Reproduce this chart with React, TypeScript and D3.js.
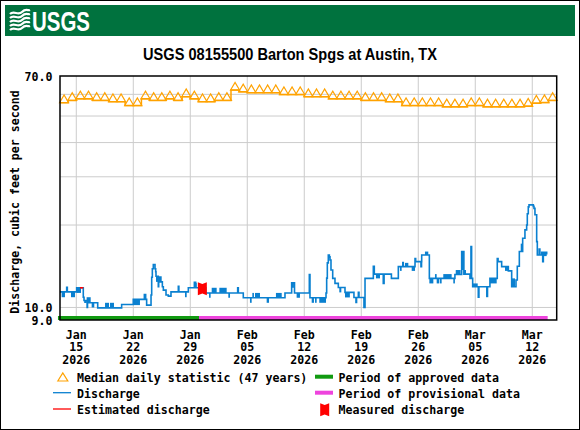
import React from 'react';
import * as d3 from 'd3';

// all times are days after 2026-01-13 00:00 UTC
const START = Date.UTC(2026, 0, 13);
const DAY = 86400000;
const SPAN_DAYS = 61;

// median daily statistic (47 years), one value per day from Jan 13 to Mar 14
const medianDaily = [
  55.9, 57.0, 57.8, 57.8, 57.0, 57.0, 56.4, 56.4, 54.6, 54.6, 57.8, 57.0, 57.0, 57.8, 57.0, 58.8, 57.8, 56.4, 56.4,
  57.0, 57.0, 62.2, 61.3, 60.8, 60.8, 60.8, 60.8, 59.9, 59.9, 59.9, 58.8, 58.8, 58.8, 57.8, 57.8, 57.8, 57.8,
  57.0, 57.0, 57.0, 56.4, 56.4, 54.6, 54.6, 54.6, 54.6, 54.6,
  54.0, 54.0, 54.0, 54.6, 54.6, 54.0, 54.0, 54.0, 54.0, 54.0, 54.3, 55.7, 56.0, 57.0,
];

// discharge, [day, cfs], held until the next point
const discharge = [
  [0, 11.4], [0.82, 11.85], [0.9, 11.4], [2.05, 11.8], [2.86, 10.9], [2.95, 10.6], [3.07, 10.45], [3.12, 10.6],
  [3.33, 10.0], [3.38, 10.6], [3.48, 10.4], [4.63, 9.97], [7.57, 10.25], [9.0, 10.7], [10.36, 11.15], [10.52, 10.7],
  [10.64, 10.2], [11.18, 11.1], [11.26, 12.9], [11.34, 13.85], [11.46, 14.35], [11.67, 13.85], [11.75, 13.5],
  [11.79, 13.0], [12.07, 11.9], [12.12, 12.4], [12.57, 11.9], [12.69, 11.57], [13.02, 11.1], [13.3, 11.0],
  [13.63, 11.4], [14.53, 11.95], [14.6, 11.4], [15.76, 11.8], [16.5, 12.35], [16.66, 11.8], [17.9, 11.3],
  [21.82, 11.8], [21.9, 11.3], [22.51, 10.85], [27.63, 11.3], [28.45, 12.3], [28.8, 11.3], [30.62, 13.2],
  [30.7, 10.85], [32.67, 11.3], [32.75, 12.8], [32.83, 14.55], [32.95, 15.55], [33.08, 15.3], [33.16, 14.9],
  [33.28, 13.7], [33.49, 12.77], [33.77, 12.24], [34.18, 11.83], [35.0, 11.35], [36.1, 10.88], [36.35, 10.43],
  [36.42, 10.88], [36.64, 11.35], [36.72, 10.88], [37.33, 10.0], [37.46, 12.77], [38.48, 14.15], [38.6, 13.24],
  [39.7, 12.24], [39.8, 13.24], [40.7, 12.77], [41.55, 14.1], [42.1, 14.6], [42.16, 14.1], [43.6, 15.1],
  [43.68, 14.7], [44.33, 14.1], [44.4, 14.7], [44.42, 15.55], [45.36, 12.77], [48.5, 13.2], [49.33, 16.0],
  [49.6, 13.24], [50.35, 12.77], [50.47, 16.7], [50.55, 12.77], [50.68, 11.9], [51.37, 10.9], [51.45, 11.9],
  [52.8, 12.77], [53.7, 15.1], [53.8, 14.7], [54.24, 14.1], [55.06, 13.6], [55.47, 11.9], [56.0, 12.6],
  [56.16, 14.15], [56.41, 16.0], [56.82, 17.9], [57.1, 19.2], [57.31, 20.0], [57.39, 22.0], [57.51, 23.3],
  [57.6, 23.7], [58.13, 23.4], [58.21, 23.0], [58.33, 21.8], [58.54, 17.4], [58.62, 15.55], [59.15, 15.9],
  [59.28, 14.7], [59.36, 15.9], [59.77, 15.6],
];

// stretches where the 15-minute values flip between two levels: [from, to, low, high]
const flicker = [
  [0.2, 0.61, 10.9, 11.4], [1.35, 1.84, 10.9, 11.4], [2.05, 2.58, 11.3, 11.8], [3.27, 3.77, 10.4, 10.9],
  [3.89, 4.21, 10.0, 10.4], [5.53, 6.02, 9.97, 10.4], [6.14, 6.63, 9.97, 10.4], [9.0, 9.82, 10.2, 10.7],
  [11.79, 12.49, 12.4, 13.0], [15.35, 15.56, 10.9, 11.4], [16.46, 16.79, 11.8, 12.3], [18.3, 18.5, 10.85, 11.3],
  [18.63, 19.24, 11.3, 11.8], [19.57, 20.47, 11.3, 11.8], [20.67, 20.88, 10.85, 11.3], [23.33, 23.54, 10.4, 10.85],
  [23.62, 23.82, 10.85, 11.3], [23.95, 24.56, 10.85, 11.3], [25.38, 25.67, 10.4, 10.85], [26.52, 27.23, 10.85, 11.3],
  [28.45, 28.73, 11.8, 12.3], [29.06, 29.47, 10.85, 11.3], [30.91, 31.19, 10.4, 10.85], [31.32, 31.52, 10.4, 10.85],
  [31.84, 32.67, 10.4, 10.85], [34.3, 34.55, 11.35, 11.83], [35.0, 35.6, 10.88, 11.35], [38.8, 39.3, 12.77, 13.24],
  [41.75, 41.96, 13.6, 14.1], [42.37, 42.78, 14.1, 14.55], [43.19, 43.6, 13.6, 14.1], [44.82, 45.23, 15.55, 16.0],
  [45.36, 45.85, 12.24, 12.77], [46.05, 46.26, 12.77, 13.24], [46.26, 46.58, 12.24, 12.77], [46.67, 46.87, 12.24, 12.77],
  [47.07, 48.1, 12.77, 13.24], [48.3, 48.5, 12.24, 12.77], [48.6, 49.2, 13.2, 13.7], [49.33, 49.6, 13.7, 16.0],
  [49.6, 49.86, 13.24, 13.7], [50.68, 51.3, 11.9, 12.24], [52.32, 52.6, 10.9, 11.9], [52.8, 53.63, 12.24, 12.77],
  [54.65, 55.06, 13.6, 14.1], [55.47, 55.88, 11.9, 12.77], [56.58, 56.82, 16.0, 17.1], [58.74, 59.03, 15.55, 16.45],
  [59.44, 59.77, 15.4, 15.9],
];

const estimated = [[2.45, 11.8], [2.86, 11.8]];
const measured = [[17.48, 11.7]];

const approvedPeriod = [-0.25, 17.07];
const provisionalPeriod = [17.07, 59.89];

const gridValues = [10, 20, 30, 40, 50, 60];
const yTickLabels = [70, 10, 9];

const title = 'USGS 08155500 Barton Spgs at Austin, TX';
const yTitle = 'Discharge, cubic feet per second';

const BLUE = '#0a80d0';
const ORANGE = '#ffa200';
const MONO = "'DejaVu Sans Mono', monospace";

const toDate = (t: number) => new Date(START + t * DAY);

const x = d3.scaleUtc().domain([toDate(0), toDate(SPAN_DAYS)]).range([60, 556.7]);
const y = d3.scaleLog().domain([9, 70]).range([320, 76]);

const stepLine = d3.line<number[]>()
  .x(d => x(toDate(d[0])))
  .y(d => y(d[1]))
  .curve(d3.curveStepAfter);

const plainLine = d3.line<number[]>()
  .x(d => x(toDate(d[0])))
  .y(d => y(d[1]));

const medianPts = medianDaily.map((v, i) => [i, v]).concat([[SPAN_DAYS, medianDaily[medianDaily.length - 1]]]);
const weekTicks = d3.utcThursday.range(toDate(1), toDate(SPAN_DAYS));

const tri = (cx: number, by: number, w: number, h: number) =>
  `M${cx - w / 2},${by}L${cx},${by - h}L${cx + w / 2},${by}Z`;
const measShape = (cx: number, cy: number) =>
  `M${cx - 4.5},${cy - 6.5}L${cx},${cy - 4.8}L${cx + 4.5},${cy - 6.5}L${cx + 4.5},${cy + 6.5}L${cx},${cy + 4.8}L${cx - 4.5},${cy + 6.5}Z`;

const fmtMon = d3.utcFormat('%b');
const fmtDay = d3.utcFormat('%d');
const fmtYear = d3.utcFormat('%Y');

export default function App() {
  const lbl = { fontFamily: MONO, fontWeight: 'bold' as const, fontSize: 11.6, fill: '#000' };
  return (
    <svg width={580} height={430} style={{ position: 'absolute', left: 0, top: 0, background: '#fff' }}>
      <rect x={0.5} y={0.5} width={579} height={429} fill="#fff" stroke="#000" strokeWidth={1} />

      {/* header band */}
      <rect x={5} y={5} width={570} height={31} fill="#00723e" />
      {[13, 17, 21, 25, 29].map((yy, i) => (
        <path key={i} d={`M10,${yy + 1}C14,${yy - 3} 18,${yy + 3} 22,${yy - 1}S28,${yy - 2} 30,${yy - 3}`}
          fill="none" stroke="#fff" strokeWidth={2.3} />
      ))}
      <text x={32} y={30.5} fill="#fff" fontFamily="'Liberation Sans Narrow', 'Liberation Sans', sans-serif"
        fontWeight="bold" fontSize={28} textLength={58} lengthAdjust="spacingAndGlyphs">USGS</text>

      <text x={290} y={59.5} textAnchor="middle" fontFamily="'Liberation Sans', Arial, sans-serif" fontWeight="bold"
        fontSize={17} textLength={294} lengthAdjust="spacingAndGlyphs">{title}</text>

      {/* grid */}
      {gridValues.map(v => (
        <line key={v} x1={60} x2={556.7} y1={y(v)} y2={y(v)} stroke="#cccccc" strokeWidth={1} />
      ))}
      {weekTicks.map(d => (
        <line key={+d} x1={x(d)} x2={x(d)} y1={76} y2={320} stroke="#cccccc" strokeWidth={1} />
      ))}

      {/* approval periods */}
      <rect x={x(toDate(approvedPeriod[0]))} y={316} width={x(toDate(approvedPeriod[1])) - x(toDate(approvedPeriod[0]))}
        height={4} fill="#119a11" />
      <rect x={x(toDate(provisionalPeriod[0]))} y={316}
        width={x(toDate(provisionalPeriod[1])) - x(toDate(provisionalPeriod[0]))} height={4} fill="#ee44dd" />

      {/* median */}
      <path d={stepLine(medianPts) || ''} fill="none" stroke={ORANGE} strokeWidth={1.5} />
      {medianDaily.map((v, i) => (
        <path key={i} d={tri(x(toDate(i + 0.5)), y(v), 9, 7.7)} fill="none" stroke={ORANGE} strokeWidth={1.2} />
      ))}

      {/* discharge */}
      {flicker.map((f, i) => (
        <rect key={i} x={x(toDate(f[0]))} width={Math.max(1.5, x(toDate(f[1])) - x(toDate(f[0])))}
          y={y(f[3])} height={y(f[2]) - y(f[3])} fill={BLUE} />
      ))}
      <path d={stepLine(discharge) || ''} fill="none" stroke={BLUE} strokeWidth={1.6} />
      <path d={plainLine(estimated) || ''} fill="none" stroke="#ff0000" strokeWidth={1.6} />
      {measured.map((m, i) => (
        <path key={i} d={measShape(x(toDate(m[0])), y(m[1]))} fill="#ff0000" />
      ))}

      <rect x={60} y={76} width={496.7} height={244} fill="none" stroke="#000" strokeWidth={1.5} />

      {/* y labels */}
      {yTickLabels.map(v => (
        <text key={v} x={52.5} y={y(v) + 4.5} textAnchor="end" {...lbl}>{v.toFixed(1)}</text>
      ))}
      <text transform="translate(18.5,202) rotate(-90)" textAnchor="middle" {...lbl}>{yTitle}</text>

      {/* x labels */}
      {weekTicks.map(d => (
        <text key={+d} textAnchor="middle" {...lbl}>
          <tspan x={x(d)} y={338.5}>{fmtMon(d)}</tspan>
          <tspan x={x(d)} y={351}>{fmtDay(d)}</tspan>
          <tspan x={x(d)} y={363.5}>{fmtYear(d)}</tspan>
        </text>
      ))}

      {/* legend */}
      <path d={tri(62.8, 381, 10, 8)} fill="none" stroke={ORANGE} strokeWidth={1.2} />
      <text x={77} y={381.5} {...lbl}>Median daily statistic (47 years)</text>
      <line x1={53} x2={71} y1={392.7} y2={392.7} stroke={BLUE} strokeWidth={1.3} />
      <text x={77} y={397.5} {...lbl}>Discharge</text>
      <line x1={53} x2={71} y1={409} y2={409} stroke="#ff0000" strokeWidth={1.3} />
      <text x={77} y={413.5} {...lbl}>Estimated discharge</text>

      <line x1={315} x2={333} y1={376.7} y2={376.7} stroke="#119a11" strokeWidth={4} />
      <text x={338.5} y={381.5} {...lbl}>Period of approved data</text>
      <line x1={315} x2={333} y1={392.7} y2={392.7} stroke="#ee44dd" strokeWidth={4} />
      <text x={338.5} y={397.5} {...lbl}>Period of provisional data</text>
      <path d={measShape(324.7, 409.7)} fill="#ff0000" />
      <text x={338.5} y={413.5} {...lbl}>Measured discharge</text>
    </svg>
  );
}
